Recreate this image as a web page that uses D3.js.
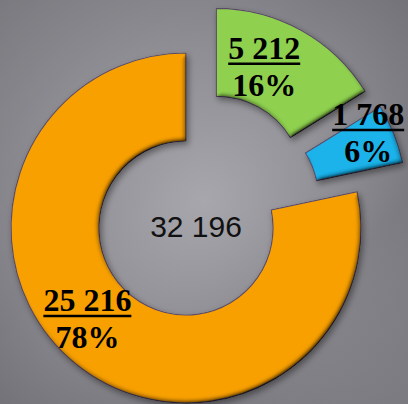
<!doctype html>
<html>
<head>
<style>
  body { margin: 0; }
  svg { display: block; }
  .val { font-family: "Liberation Serif", "Times New Roman", serif; font-weight: bold; font-size: 32px; fill: #000; }
  .total { font-family: "Liberation Sans", Arial, sans-serif; font-size: 30px; fill: #111; }
</style>
<script src="https://d3js.org/d3.v7.min.js"></script>
</head>
<body>
<svg width="408" height="404"></svg>
<script>
var categories = ["green", "blue", "orange"];
var values = [5212, 1768, 25216];
var percentLabels = ["16%", "6%", "78%"];
var colors = ["#8fd14f", "#1ab2ea", "#f8a000"];
var exploded = [true, true, false];

var svg = d3.select("svg"),
    width = +svg.attr("width"),
    height = +svg.attr("height");

var cx = 186, cy = 228,
    outerR = 175, innerR = 87,
    explode = 54;

// explode direction tweak (deg) and label nudges, per slice
var explodeTurn = [5, -11, 0];
var labelNudge = [[-16, 4], [15, -11], [-16, -5]];

var defs = svg.append("defs");

// grey background
var bg = defs.append("radialGradient").attr("id", "bg")
    .attr("cx", "50%").attr("cy", "50%").attr("r", "72%");
bg.append("stop").attr("offset", "0%").attr("stop-color", "#a6a6ac");
bg.append("stop").attr("offset", "50%").attr("stop-color", "#8e8e94");
bg.append("stop").attr("offset", "100%").attr("stop-color", "#707076");

var streak = defs.append("linearGradient").attr("id", "streak")
    .attr("x1", "0").attr("y1", "0").attr("x2", "1").attr("y2", "1");
streak.append("stop").attr("offset", "0%").attr("stop-color", "#fff").attr("stop-opacity", 0.06);
streak.append("stop").attr("offset", "40%").attr("stop-color", "#fff").attr("stop-opacity", 0);
streak.append("stop").attr("offset", "75%").attr("stop-color", "#000").attr("stop-opacity", 0.07);
streak.append("stop").attr("offset", "100%").attr("stop-color", "#fff").attr("stop-opacity", 0.06);

// bevel (multiplied diffuse light, flat = 1) + shadow
var f = defs.append("filter").attr("id", "bevel")
    .attr("x", "-10%").attr("y", "-10%").attr("width", "130%").attr("height", "130%");
f.append("feGaussianBlur").attr("in", "SourceAlpha").attr("stdDeviation", 2.5).attr("result", "blur");
var dif = f.append("feDiffuseLighting").attr("in", "blur")
    .attr("surfaceScale", 3).attr("diffuseConstant", 1.414)
    .attr("lighting-color", "#ffffff").attr("result", "light");
dif.append("feDistantLight").attr("azimuth", 235).attr("elevation", 45);
f.append("feComposite").attr("in", "SourceGraphic").attr("in2", "light")
    .attr("operator", "arithmetic").attr("k1", 1).attr("k2", 0).attr("k3", 0).attr("k4", 0).attr("result", "litRaw");
f.append("feComposite").attr("in", "litRaw").attr("in2", "SourceAlpha").attr("operator", "in").attr("result", "lit");
f.append("feOffset").attr("in", "SourceAlpha").attr("dx", 2).attr("dy", 3).attr("result", "off");
f.append("feGaussianBlur").attr("in", "off").attr("stdDeviation", 3).attr("result", "shadowBlur");
f.append("feComponentTransfer").attr("in", "shadowBlur").attr("result", "shadow")
    .append("feFuncA").attr("type", "linear").attr("slope", 0.4);
var merge = f.append("feMerge");
merge.append("feMergeNode").attr("in", "shadow");
merge.append("feMergeNode").attr("in", "lit");

svg.append("rect").attr("width", width).attr("height", height).attr("fill", "url(#bg)");
svg.append("rect").attr("width", width).attr("height", height).attr("fill", "url(#streak)");

var pie = d3.pie().sort(null).value(function(d) { return d; });
var arcs = pie(values);

var arc = d3.arc().innerRadius(innerR).outerRadius(outerR);
var labelArc = d3.arc().innerRadius(outerR * 0.75).outerRadius(outerR * 0.75);

function shift(d, i) {
    if (!exploded[i]) return [0, 0];
    var a = (d.startAngle + d.endAngle) / 2 + explodeTurn[i] * Math.PI / 180;
    return [Math.sin(a) * explode, -Math.cos(a) * explode];
}

var g = svg.append("g").attr("transform", "translate(" + cx + "," + cy + ")");

var slices = g.selectAll(".slice")
    .data(arcs)
    .enter().append("g")
    .attr("class", "slice")
    .attr("transform", function(d, i) { var s = shift(d, i); return "translate(" + s[0] + "," + s[1] + ")"; });

slices.append("path")
    .attr("d", arc)
    .attr("fill", function(d, i) { return colors[i]; })
    .attr("stroke", "#5b4a68")
    .attr("stroke-width", 1.2)
    .attr("filter", "url(#bevel)");

var fmt = function(v) { return d3.format(",")(v).replace(/,/g, " "); };

slices.each(function(d, i) {
    var c = labelArc.centroid(d);
    var x = c[0] + labelNudge[i][0], y = c[1] + labelNudge[i][1];
    var sel = d3.select(this);
    var top = sel.append("text").attr("class", "val")
        .attr("x", x).attr("y", y - 14)
        .attr("text-anchor", "middle")
        .text(fmt(values[i]));
    var bb = top.node().getBBox();
    sel.append("line")
        .attr("x1", bb.x).attr("x2", bb.x + bb.width)
        .attr("y1", y - 9).attr("y2", y - 9)
        .attr("stroke", "#000").attr("stroke-width", 2.5);
    sel.append("text").attr("class", "val")
        .attr("x", x).attr("y", y + 23)
        .attr("text-anchor", "middle")
        .text(percentLabels[i]);
});

g.append("text").attr("class", "total")
    .attr("x", 10).attr("y", 9)
    .attr("text-anchor", "middle")
    .text(fmt(d3.sum(values)));
</script>
</body>
</html>
